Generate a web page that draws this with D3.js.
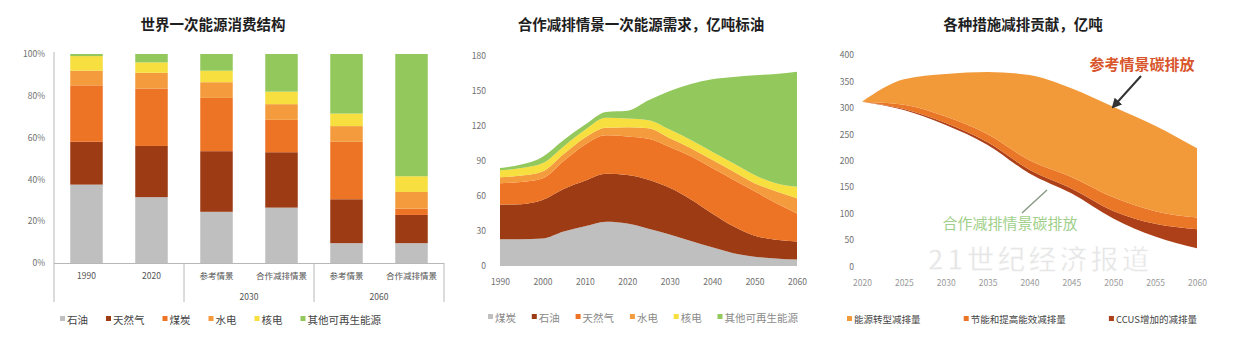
<!DOCTYPE html>
<html>
<head>
<meta charset="utf-8">
<script src="https://cdn.jsdelivr.net/npm/d3@7"></script>
<style>
  body { margin: 0; background: #fff; }
  svg { display: block; }
  text { font-family: "Noto Sans CJK SC", "Noto Sans", sans-serif; }
</style>
</head>
<body>
<svg id="chart" width="1237" height="341"></svg>
<script>
// ---------- Panel 1: world primary energy consumption mix (%) ----------
const mixCategories = ["1990", "2020", "参考情景", "合作减排情景", "参考情景", "合作减排情景"];
const mixGroupLabels = ["2030", "2060"];
const mixLegend = ["石油", "天然气", "煤炭", "水电", "核电", "其他可再生能源"];
const mixOil     = [37.5, 31.5, 24.5, 26.5, 9.5, 9.5];
const mixGas     = [20.5, 24.5, 29.0, 26.5, 21.0, 13.5];
const mixCoal    = [27.0, 27.5, 25.5, 15.5, 27.5, 3.0];
const mixHydro   = [7.0, 7.5, 7.5, 7.5, 7.5, 8.0];
const mixNuclear = [7.0, 5.0, 5.5, 6.0, 6.0, 7.5];
const mixOther   = [1.0, 4.0, 8.0, 18.0, 28.5, 58.5];
const mixTicks = [0, 20, 40, 60, 80, 100];

// ---------- Panel 2: primary energy demand, cooperative scenario (100 Mt oe) ----------
const demandYears = [1990, 1995, 2000, 2005, 2010, 2015, 2020, 2025, 2030, 2035, 2040, 2045, 2050, 2055, 2060];
const demandLegend = ["煤炭", "石油", "天然气", "水电", "核电", "其他可再生能源"];
const demandS1 = [23, 23, 23.5, 29.5, 34, 38, 36.5, 32, 27, 21.5, 16, 11, 8, 6.5, 5.5];
const demandS2 = [29.5, 30, 33, 36.5, 39, 41, 41.5, 42, 40, 35.5, 29, 23, 18, 16, 15.5];
const demandS3 = [18.5, 19, 18.5, 24, 31, 33, 33, 35, 35, 37, 39, 40, 38, 31.5, 24];
const demandS4 = [5, 5.5, 6, 6, 6, 6.5, 8, 9, 7.5, 7, 7, 7, 7, 10, 13];
const demandS5 = [6, 6.5, 7, 6.5, 6.5, 8.5, 7.5, 7, 7.5, 7, 7, 7, 7, 7, 10];
const demandS6 = [2, 3, 5.5, 5.5, 4.5, 5, 6.5, 17, 33, 48, 62, 74, 85.5, 93.5, 98.5];
const demandTicks = [0, 30, 60, 90, 120, 150, 180];
const demandTickYears = [1990, 2000, 2010, 2020, 2030, 2040, 2050, 2060];

// ---------- Panel 3: emission reduction by measure (100 Mt) ----------
const cutYears = [2020, 2025, 2030, 2035, 2040, 2045, 2050, 2055, 2060];
const cutLegend = ["能源转型减排量", "节能和提高能效减排量", "CCUS增加的减排量"];
const coopEmission   = [311.7, 296, 267.6, 230, 176, 138.5, 91, 56.7, 34.6];
const ccusCut        = [0, 2, 4, 5, 7, 9, 14, 24, 36];
const efficiencyCut  = [0, 8, 12, 15, 18, 22, 26, 24, 22];
const transitionCut  = [0, 48, 80.4, 118, 161, 167.5, 171, 161.3, 130.9];
const cutTicks = [0, 50, 100, 150, 200, 250, 300, 350, 400];

const fuelColors = ["#bfbfbf", "#9d3b15", "#ee7425", "#f49c3d", "#f6df3f", "#93c85c"];
const cutColors  = ["#f29a3a", "#ea7727", "#ad4019"]; // transition, efficiency, CCUS
const axisText = "#6f6f6f";

const svg = d3.select("#chart");

function title(x, txt) {
  svg.append("text").attr("x", x).attr("y", 30)
    .attr("text-anchor", "middle").attr("font-size", 14.5).attr("font-weight", 700)
    .attr("fill", "#1e1e1e").text(txt);
}

function legend(items, colors, x0, x1, y, size, textColor) {
  const g = svg.append("g");
  const nodes = items.map((t, i) => {
    const it = g.append("g");
    it.append("rect").attr("width", 5).attr("height", 5).attr("y", -4).attr("fill", colors[i]);
    const tx = it.append("text").attr("x", 7).attr("y", 0).attr("dy", "0.35em")
      .attr("font-size", size).attr("fill", textColor).text(t);
    return { it, w: 7 + tx.node().getComputedTextLength() };
  });
  const total = d3.sum(nodes, d => d.w);
  const gap = (x1 - x0 - total) / (nodes.length - 1);
  let x = x0;
  nodes.forEach(n => { n.it.attr("transform", `translate(${x},${y})`); x += n.w + gap; });
}

// ================= Panel 1 =================
{
  const x = d3.scaleBand().domain(d3.range(mixCategories.length)).range([54, 444]).paddingInner(0.5).paddingOuter(0.25);
  const y = d3.scaleLinear().domain([0, 100]).range([263, 54]);
  const series = [mixOil, mixGas, mixCoal, mixHydro, mixNuclear, mixOther];
  const rows = mixCategories.map((c, i) => {
    const r = { i };
    series.forEach((s, k) => r["k" + k] = s[i]);
    return r;
  });
  const stack = d3.stack().keys(series.map((s, k) => "k" + k))(rows);

  title(213, "世界一次能源消费结构");

  svg.append("g").selectAll("g").data(stack).join("g")
    .attr("fill", (d, k) => fuelColors[k])
    .selectAll("rect").data(d => d).join("rect")
    .attr("x", d => x(d.data.i)).attr("width", x.bandwidth())
    .attr("y", d => y(d[1])).attr("height", d => y(d[0]) - y(d[1]));

  // y labels
  const ya = svg.append("g").attr("transform", "translate(54,0)")
    .call(d3.axisLeft(y).tickValues(mixTicks).tickFormat(d => d + "%").tickSize(0).tickPadding(9));
  ya.select(".domain").remove();
  ya.selectAll("text").attr("font-size", 8.5).attr("fill", axisText).attr("font-family", "Liberation Sans, sans-serif");

  // axis lines and group separators
  const line = (x1, y1, x2, y2) => svg.append("line").attr("x1", x1).attr("y1", y1).attr("x2", x2).attr("y2", y2)
    .attr("stroke", "#b8b8b8").attr("stroke-width", 1);
  line(54, 52, 54, 302);
  line(54, 263.5, 444, 263.5);
  const sep1 = (x(1) + x.bandwidth() + x(2)) / 2;
  const sep2 = (x(3) + x.bandwidth() + x(4)) / 2;
  line(sep1, 263, sep1, 302);
  line(sep2, 263, sep2, 302);
  line(444, 263, 444, 302);

  svg.append("g").selectAll("text").data(mixCategories).join("text")
    .attr("x", (d, i) => x(i) + x.bandwidth() / 2).attr("y", 279)
    .attr("text-anchor", "middle").attr("font-size", 8.5).attr("fill", "#555").text(d => d);
  svg.append("g").selectAll("text").data(mixGroupLabels).join("text")
    .attr("x", (d, i) => i === 0 ? (sep1 + sep2) / 2 : (sep2 + 444) / 2).attr("y", 300)
    .attr("text-anchor", "middle").attr("font-size", 8.5).attr("fill", "#555")
    .attr("font-family", "Liberation Sans, sans-serif").text(d => d);

  legend(mixLegend, fuelColors, 60, 381, 320, 10.5, "#444");
}

// ================= Panel 2 =================
{
  const x = d3.scaleLinear().domain([1990, 2060]).range([500, 797]);
  const y = d3.scaleLinear().domain([0, 180]).range([266, 56]);
  const series = [demandS1, demandS2, demandS3, demandS4, demandS5, demandS6];
  const rows = demandYears.map((yr, i) => {
    const r = { yr };
    series.forEach((s, k) => r["k" + k] = s[i]);
    return r;
  });
  const stack = d3.stack().keys(series.map((s, k) => "k" + k))(rows);
  const area = d3.area().x(d => x(d.data.yr)).y0(d => y(d[0])).y1(d => y(d[1])).curve(d3.curveMonotoneX);

  title(641, "合作减排情景一次能源需求，亿吨标油");

  svg.append("g").selectAll("path").data(stack).join("path")
    .attr("fill", (d, k) => fuelColors[k]).attr("d", area);

  const ya = svg.append("g").attr("transform", "translate(500,0)")
    .call(d3.axisLeft(y).tickValues(demandTicks).tickSize(0).tickPadding(14));
  ya.select(".domain").remove();
  ya.selectAll("text").attr("font-size", 8.5).attr("fill", axisText).attr("font-family", "Liberation Sans, sans-serif");

  const xa = svg.append("g").attr("transform", "translate(0,266)")
    .call(d3.axisBottom(x).tickValues(demandTickYears).tickFormat(d3.format("d")).tickSize(0).tickPadding(13));
  xa.select(".domain").remove();
  xa.selectAll("text").attr("font-size", 8.5).attr("fill", axisText).attr("font-family", "Liberation Sans, sans-serif");

  legend(demandLegend, fuelColors, 488, 798, 318, 10.5, "#8a8a8a");
}

// ================= Panel 3 =================
{
  const x = d3.scaleLinear().domain([2020, 2060]).range([862, 1197]);
  const y = d3.scaleLinear().domain([0, 400]).range([266.5, 55]);
  const rows = cutYears.map((yr, i) => ({
    yr, base: coopEmission[i], ccus: ccusCut[i], eff: efficiencyCut[i], trans: transitionCut[i]
  }));
  const stack = d3.stack().keys(["base", "ccus", "eff", "trans"])(rows);
  const area = d3.area().x(d => x(d.data.yr)).y0(d => y(d[0])).y1(d => y(d[1])).curve(d3.curveMonotoneX);
  const fills = ["none", cutColors[2], cutColors[1], cutColors[0]];

  title(1023, "各种措施减排贡献，亿吨");

  svg.append("g").selectAll("path").data(stack).join("path")
    .attr("fill", (d, k) => fills[k]).attr("d", area);

  const ya = svg.append("g").attr("transform", "translate(862,0)")
    .call(d3.axisLeft(y).tickValues(cutTicks).tickSize(0).tickPadding(8));
  ya.select(".domain").remove();
  ya.selectAll("text").attr("font-size", 8.5).attr("fill", axisText).attr("font-family", "Liberation Sans, sans-serif");

  // publisher watermark, sitting just above the year labels
  svg.append("text").attr("x", 1040).attr("y", 270).attr("text-anchor", "middle")
    .attr("font-size", 28).attr("font-weight", 700).attr("letter-spacing", 3)
    .attr("fill", "#dcdcdc").attr("fill-opacity", 0.7)
    .attr("stroke", "#ffffff").attr("stroke-width", 1.5).attr("stroke-opacity", 0.9)
    .text("21世纪经济报道");

  const xa = svg.append("g").attr("transform", "translate(0,266)")
    .call(d3.axisBottom(x).tickValues(cutYears).tickFormat(d3.format("d")).tickSize(0).tickPadding(14));
  xa.select(".domain").remove();
  xa.selectAll("text").attr("font-size", 8.5).attr("fill", "#9a9a9a").attr("font-family", "Liberation Sans, sans-serif");

  // annotations
  svg.append("defs").append("marker").attr("id", "arrowHead")
    .attr("viewBox", "0 0 10 10").attr("refX", 8).attr("refY", 5)
    .attr("markerWidth", 5).attr("markerHeight", 5).attr("orient", "auto")
    .append("path").attr("d", "M0,0L10,5L0,10z").attr("fill", "#333");
  svg.append("text").attr("x", 1142).attr("y", 70).attr("text-anchor", "middle")
    .attr("font-size", 15).attr("font-weight", 700).attr("fill", "#d9552c").text("参考情景碳排放");
  svg.append("line").attr("x1", 1141).attr("y1", 76).attr("x2", 1113).attr("y2", 107)
    .attr("stroke", "#333").attr("stroke-width", 2).attr("marker-end", "url(#arrowHead)");

  svg.append("text").attr("x", 1010).attr("y", 229).attr("text-anchor", "middle")
    .attr("font-size", 15).attr("fill", "#9fd08a").text("合作减排情景碳排放");
  svg.append("line").attr("x1", 1022).attr("y1", 213).attr("x2", 1047).attr("y2", 190)
    .attr("stroke", "#8a9c86").attr("stroke-width", 1.5);

  legend(cutLegend, cutColors, 847, 1197, 320, 9.5, "#444");
}
</script>
</body>
</html>
